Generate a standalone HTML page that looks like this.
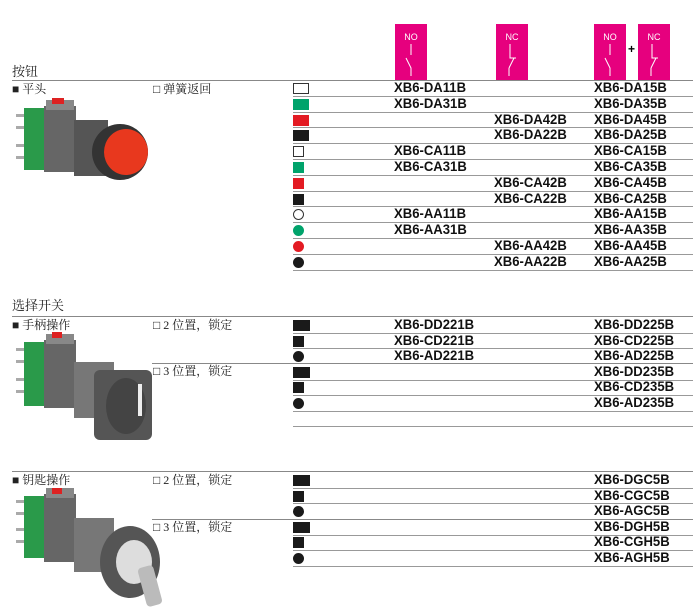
<!DOCTYPE html>
<html><head><meta charset="utf-8"><style>
body{margin:0;width:700px;height:611px;background:#fff;position:relative;overflow:hidden;font-family:"Liberation Sans","Noto Sans CJK SC",sans-serif}
.a{position:absolute}
.t{position:absolute;font-size:12px;color:#222;line-height:14px;white-space:nowrap;font-family:"Liberation Serif","Noto Serif CJK SC",serif}
.c{position:absolute;font-size:13.5px;font-weight:bold;color:#111;line-height:14px;white-space:nowrap;transform:scaleX(0.97);transform-origin:left}
.l{position:absolute;height:1px;background:#999}
.pk{position:absolute;background:#e6007e;color:#fff;font-size:9px;text-align:center}
</style></head><body>

<div class="pk" style="left:395px;top:24px;width:32px;height:56px"><svg width="32" height="56"><text x="16" y="16" fill="#fff" font-size="9" text-anchor="middle" font-family="Liberation Sans">NO</text><path d="M16 20V31M11 34L16 44V52" stroke="#fff" fill="none"/></svg></div>
<div class="pk" style="left:496px;top:24px;width:32px;height:56px"><svg width="32" height="56"><text x="16" y="16" fill="#fff" font-size="9" text-anchor="middle" font-family="Liberation Sans">NC</text><path d="M14 20V34H20M13 44L18 34M13 44V52" stroke="#fff" fill="none"/></svg></div>
<div class="pk" style="left:594px;top:24px;width:32px;height:56px"><svg width="32" height="56"><text x="16" y="16" fill="#fff" font-size="9" text-anchor="middle" font-family="Liberation Sans">NO</text><path d="M16 20V31M11 34L16 44V52" stroke="#fff" fill="none"/></svg></div>
<div class="a" style="left:628px;top:42px;font-size:12px;font-weight:bold">+</div>
<div class="pk" style="left:638px;top:24px;width:32px;height:56px"><svg width="32" height="56"><text x="16" y="16" fill="#fff" font-size="9" text-anchor="middle" font-family="Liberation Sans">NC</text><path d="M14 20V34H20M13 44L18 34M13 44V52" stroke="#fff" fill="none"/></svg></div>

<div class="t" style="left:12px;top:65px;font-size:13px">按钮</div>
<div class="l" style="left:12px;width:681px;top:80px;background:#888"></div>
<div class="t" style="left:12px;top:82px">■ 平头</div>
<div class="t" style="left:153px;top:82px">□ 弹簧返回</div>

<svg class="a" style="left:14px;top:96px" width="140" height="95">
<rect x="2" y="18" width="8" height="3" fill="#aaa"/><rect x="2" y="30" width="8" height="3" fill="#aaa"/><rect x="2" y="48" width="8" height="3" fill="#aaa"/><rect x="2" y="60" width="8" height="3" fill="#aaa"/>
<rect x="10" y="12" width="22" height="62" fill="#2a9a4a"/>
<rect x="30" y="10" width="32" height="66" fill="#666"/>
<rect x="32" y="4" width="28" height="10" fill="#888"/><rect x="38" y="2" width="12" height="6" fill="#d22"/>
<rect x="60" y="24" width="34" height="56" fill="#555"/>
<ellipse cx="106" cy="56" rx="28" ry="28" fill="#333"/>
<ellipse cx="112" cy="56" rx="22" ry="23" fill="#e8381e"/>
</svg>

<svg class="a" style="left:14px;top:332px" width="140" height="115">
<rect x="2" y="16" width="8" height="3" fill="#aaa"/><rect x="2" y="28" width="8" height="3" fill="#aaa"/><rect x="2" y="46" width="8" height="3" fill="#aaa"/><rect x="2" y="58" width="8" height="3" fill="#aaa"/>
<rect x="10" y="10" width="22" height="64" fill="#2a9a4a"/>
<rect x="30" y="8" width="32" height="68" fill="#666"/>
<rect x="32" y="2" width="28" height="10" fill="#888"/><rect x="38" y="0" width="10" height="6" fill="#d22"/>
<rect x="60" y="30" width="40" height="56" fill="#777"/>
<rect x="80" y="38" width="58" height="70" rx="6" fill="#555"/>
<ellipse cx="112" cy="74" rx="20" ry="28" fill="#444"/>
<rect x="124" y="52" width="4" height="32" fill="#eee"/>
</svg>

<svg class="a" style="left:14px;top:488px" width="150" height="123">
<rect x="2" y="12" width="8" height="3" fill="#aaa"/><rect x="2" y="24" width="8" height="3" fill="#aaa"/><rect x="2" y="40" width="8" height="3" fill="#aaa"/><rect x="2" y="52" width="8" height="3" fill="#aaa"/>
<rect x="10" y="8" width="22" height="62" fill="#2a9a4a"/>
<rect x="30" y="6" width="32" height="68" fill="#666"/>
<rect x="32" y="0" width="28" height="10" fill="#888"/><rect x="38" y="0" width="10" height="6" fill="#d22"/>
<rect x="60" y="30" width="40" height="54" fill="#777"/>
<ellipse cx="116" cy="74" rx="30" ry="36" fill="#555"/>
<ellipse cx="120" cy="74" rx="18" ry="22" fill="#ddd"/>
<rect x="128" y="78" width="16" height="40" rx="4" fill="#bbb" transform="rotate(-15 136 98)"/>
</svg>

<div id="rows"></div>

<div class="t" style="left:12px;top:299px;font-size:13px">选择开关</div>
<div class="l" style="left:12px;width:681px;top:316px;background:#888"></div>
<div class="t" style="left:12px;top:318px">■ 手柄操作</div>
<div class="t" style="left:153px;top:318px">□ 2 位置，锁定</div>
<div class="t" style="left:153px;top:364px">□ 3 位置，锁定</div>
<div class="l" style="left:152px;width:541px;top:363px;background:#888"></div>
<div class="l" style="left:293px;width:400px;top:426px"></div>

<div class="l" style="left:12px;width:681px;top:471px;background:#888"></div>
<div class="t" style="left:12px;top:473px">■ 钥匙操作</div>
<div class="t" style="left:153px;top:473px">□ 2 位置，锁定</div>
<div class="t" style="left:153px;top:520px">□ 3 位置，锁定</div>
<div class="l" style="left:152px;width:541px;top:519px;background:#888"></div>

<script>
var R=document.getElementById('rows'),h='';
function sym(s,y){
 var t=y-5;
 if(s=='D')return '<div class="a" style="left:293px;top:'+t+'px;width:17px;height:11px;background:#1a1a1a"></div>';
 if(s=='C')return '<div class="a" style="left:293px;top:'+t+'px;width:11px;height:11px;background:#1a1a1a"></div>';
 if(s=='A')return '<div class="a" style="left:293px;top:'+t+'px;width:11px;height:11px;border-radius:50%;background:#1a1a1a"></div>';
 var m=s.split(':');var bg=m[1],bd=bg=='#fff'?'#333':bg;
 if(m[0]=='sq')return '<div class="a" style="left:293px;top:'+t+'px;width:'+(m[2]||11)+'px;height:11px;box-sizing:border-box;border:1px solid '+bd+';background:'+bg+'"></div>';
 return '<div class="a" style="left:293px;top:'+t+'px;width:11px;height:11px;box-sizing:border-box;border-radius:50%;border:1px solid '+bd+';background:'+bg+'"></div>';
}
var g='#00a36b',r='#e31b23',k='#1a1a1a',w='#fff';
var s1=[['sq:'+w+':16','XB6-DA11B','','XB6-DA15B'],['sq:'+g+':16','XB6-DA31B','','XB6-DA35B'],['sq:'+r+':16','','XB6-DA42B','XB6-DA45B'],['sq:'+k+':16','','XB6-DA22B','XB6-DA25B'],
['sq:'+w,'XB6-CA11B','','XB6-CA15B'],['sq:'+g,'XB6-CA31B','','XB6-CA35B'],['sq:'+r,'','XB6-CA42B','XB6-CA45B'],['sq:'+k,'','XB6-CA22B','XB6-CA25B'],
['ci:'+w,'XB6-AA11B','','XB6-AA15B'],['ci:'+g,'XB6-AA31B','','XB6-AA35B'],['ci:'+r,'','XB6-AA42B','XB6-AA45B'],['ci:'+k,'','XB6-AA22B','XB6-AA25B']];
function rows(list,y0,step,lineAll){
 for(var i=0;i<list.length;i++){
  var y=y0+step*i,e=list[i];
  h+=sym(e[0],y);
  var x=[394,494,594];
  for(var j=1;j<4;j++)if(e[j])h+='<div class="c" style="left:'+x[j-1]+'px;top:'+(y-7)+'px">'+e[j]+'</div>';
  if(lineAll[i])h+='<div class="l" style="left:293px;width:400px;top:'+Math.round(y+7.8)+'px"></div>';
 }
}
rows(s1,88,15.8,[1,1,1,1,1,1,1,1,1,1,1,1]);
rows([['D','XB6-DD221B','','XB6-DD225B'],['C','XB6-CD221B','','XB6-CD225B'],['A','XB6-AD221B','','XB6-AD225B'],['D','','','XB6-DD235B'],['C','','','XB6-CD235B'],['A','','','XB6-AD235B']],325,15.6,[1,1,0,1,1,1]);
rows([['D','','','XB6-DGC5B'],['C','','','XB6-CGC5B'],['A','','','XB6-AGC5B'],['D','','','XB6-DGH5B'],['C','','','XB6-CGH5B'],['A','','','XB6-AGH5B']],480,15.6,[1,1,0,1,1,1]);
R.innerHTML=h;
</script>
</body></html>
